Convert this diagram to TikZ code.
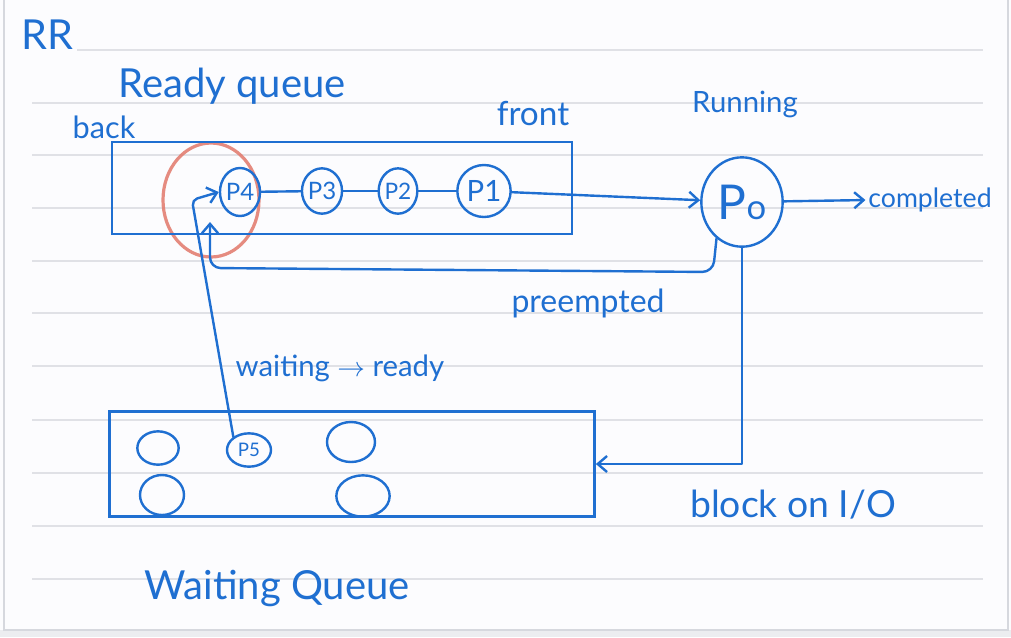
\documentclass[tikz,border=0pt]{standalone}
\usepackage{fontspec}
\setmainfont{Lato}
\usetikzlibrary{arrows.meta,shapes.geometric}
\definecolor{ink}{RGB}{31,111,209}
\definecolor{ruleline}{RGB}{224,225,230}
\definecolor{marker}{RGB}{226,120,106}
\definecolor{paper}{RGB}{252,252,254}
\definecolor{pageedge}{RGB}{214,216,222}
\newcommand\hsz[1]{\fontsize{#1}{#1}\selectfont}
\tikzset{
  hand/.style={text=ink, inner sep=0pt},
  link/.style={draw=ink, line width=1.8pt, line cap=round, line join=round},
  arr/.style={link, -{Straight Barb[length=7pt,width=12pt,line width=1.8pt]}},
  proc/.style={ellipse, draw=ink, line width=1.8pt, inner sep=0pt, text=ink},
  queuebox/.style={draw=ink, line width=1.8pt, inner sep=0pt},
  ruling/.style={draw=ruleline, line width=1pt}
}
\begin{document}
\begin{tikzpicture}[x=0.75pt,y=-0.75pt]
\useasboundingbox (0,0) rectangle (1011,637);
\fill[paper] (0,0) rectangle (1011,637);
\fill[ruleline!60] (0,630) rectangle (1011,637);
\draw[pageedge, line width=1pt] (4,0) -- (4,630) -- (1008,630) -- (1008,0);
% ruled lines
\draw[ruling] (77,50) -- (983,50);
\foreach \yy in {103,155,208,261,313,366,420,473,526,579}
  \draw[ruling] (32,\yy) -- (983,\yy);

% red highlight
\draw[marker, line width=2.4pt, opacity=0.85] (211,200) ellipse [x radius=48, y radius=57];

% labels
\node[hand, font=\hsz{31}] (rr) at (47,35) {RR};
\node[hand, font=\hsz{30}] (rq) at (232,86) {Ready queue};
\node[hand, font=\hsz{23}] (back) at (104,127) {back};
\node[hand, font=\hsz{25}] (front) at (533,114) {front};
\node[hand, font=\hsz{22}] (running) at (745,104) {Running};
\node[hand, font=\hsz{20}] (completed) at (930,200) {completed};
\node[hand, font=\hsz{24}] (preempted) at (588,303) {preempted};
\node[hand, font=\hsz{22}] (wr) at (340,368) {waiting $\rightarrow$ ready};
\node[hand, font=\hsz{28}] (block) at (793,505) {block on I/O};
\node[hand, font=\hsz{30}] (wq) at (277,588) {Waiting Queue};

% queues
\node[queuebox, minimum width=345pt, minimum height=69pt] (rbox) at (342,188) {};
\node[queuebox, minimum width=364pt, minimum height=79pt] (wbox) at (352,464) {};

% ready queue processes
\node[proc, minimum width=30pt, minimum height=36pt, font=\hsz{18}] (p4) at (240,192) {P4};
\node[proc, minimum width=30pt, minimum height=34pt, font=\hsz{18}] (p3) at (322,191) {P3};
\node[proc, minimum width=29pt, minimum height=34pt, font=\hsz{17}] (p2) at (398,191) {P2};
\node[proc, minimum width=40pt, minimum height=39pt, font=\hsz{22}] (p1) at (484,191) {P1};
\node[proc, minimum width=61pt, minimum height=67pt, font=\hsz{36}] (p0) at (742,202) {P{\hsz{26}o}};

% waiting queue processes
\node[proc, minimum width=31pt, minimum height=25pt] (w1) at (158,448) {};
\node[proc, minimum width=33pt, minimum height=25pt, font=\hsz{14}] (p5) at (249,450) {P5};
\node[proc, minimum width=36pt, minimum height=30pt] (w3) at (351,442) {};
\node[proc, minimum width=33pt, minimum height=30pt] (w4) at (162,495) {};
\node[proc, minimum width=40pt, minimum height=31pt] (w5) at (363,496) {};

% connectors
\draw[link] (p4) -- (p3);
\draw[link] (p3) -- (p2);
\draw[link] (p2) -- (p1);
\draw[arr] (p1) -- (p0);
\draw[arr, shorten >=2pt] (p0) -- (completed.west);

\coordinate (pc1) at (713,272);
\coordinate (pc2) at (210,268);
\coordinate (pend) at (210,222);
\draw[arr, rounded corners=8pt] (p0.235) -- (pc1) -- (pc2) -- (pend);

\coordinate (wc) at (192,200);
\draw[arr, rounded corners=4pt] (p5.140) -- (wc) -- (p4.west);

\draw[arr] (p0.south) |- (wbox.east);
\end{tikzpicture}
\end{document}
